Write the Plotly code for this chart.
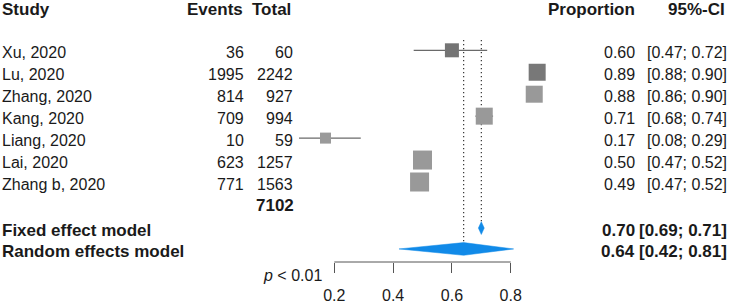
import plotly.graph_objects as go

# ---------------- data ----------------
studies = ["Xu, 2020", "Lu, 2020", "Zhang, 2020", "Kang, 2020",
           "Liang, 2020", "Lai, 2020", "Zhang b, 2020"]
events = [36, 1995, 814, 709, 10, 623, 771]
totals = [60, 2242, 927, 994, 59, 1257, 1563]
prop = [0.60, 0.89, 0.88, 0.71, 0.17, 0.50, 0.49]
ci_low = [0.47, 0.88, 0.86, 0.68, 0.08, 0.47, 0.47]
ci_high = [0.72, 0.90, 0.90, 0.74, 0.29, 0.52, 0.52]
total_n = 7102
fixed_est, fixed_low, fixed_high = 0.70, 0.69, 0.71
random_est, random_low, random_high = 0.64, 0.42, 0.81
tick_vals = [0.2, 0.4, 0.6, 0.8]
tick_text = ["0.2", "0.4", "0.6", "0.8"]
p_text = "<i>p</i> &lt; 0.01"

# ---------------- layout / style ----------------
W, H = 731, 304
MB = 42
row_y = [0, 1, 2, 3, 4, 5, 6]
total_y, fixed_y, random_y, header_y = 6.96, 8.1, 9.05, -1.88
top_ref_y = -0.47
sq_size = [14, 17, 17, 17, 11, 19, 19]
sq_color = ["#747474", "#787878", "#999999", "#999999", "#9a9a9a", "#999999", "#999999"]
blue = "#118ae8"
txt = "#1a1a1a"
FONT = "Liberation Sans, Arial, sans-serif"
FS, FSB = 16, 17
dh = 0.29  # diamond half height in row units
text_dy = 0.12

x_range = [-0.9371, 1.5493]
y_range = [9.6446, -2.2916]

fig = go.Figure()

# CI lines (below the squares)
for y, lo, hi in zip(row_y, ci_low, ci_high):
    fig.add_shape(type="line", xref="x", yref="y", x0=lo, x1=hi, y0=y, y1=y,
                  layer="below", line=dict(color="#6a6a6a", width=1.3))

# reference dotted lines
for est, ybot in [(random_est, random_y - dh), (fixed_est, fixed_y - dh)]:
    fig.add_shape(type="line", xref="x", yref="y", x0=est, x1=est, y0=top_ref_y, y1=ybot,
                  layer="below", line=dict(color="#222", width=1.1, dash="1.2px,2.8px"))

# squares
fig.add_trace(go.Scatter(x=prop, y=row_y, mode="markers",
                         marker=dict(symbol="square", size=sq_size, color=sq_color,
                                     opacity=1, line=dict(width=0)),
                         hoverinfo="skip", showlegend=False))

# diamonds
for est, lo, hi, y in [(fixed_est, fixed_low, fixed_high, fixed_y),
                       (random_est, random_low, random_high, random_y)]:
    fig.add_trace(go.Scatter(x=[lo, est, hi, est, lo], y=[y, y - dh, y, y + dh, y],
                             mode="lines", fill="toself", fillcolor=blue,
                             line=dict(color=blue, width=0.5),
                             hoverinfo="skip", showlegend=False))

# x axis line (only across tick span)
fig.add_shape(type="line", xref="x", yref="paper", x0=min(tick_vals), x1=max(tick_vals),
              y0=0, y1=0, line=dict(color="#555", width=1))

ann = []


def add_text(text, px, y, anchor, bold=False, yref="y"):
    ann.append(dict(text=f"<b>{text}</b>" if bold else text, x=px / W, xref="paper",
                    y=y, yref=yref, xanchor=anchor, yanchor="middle", showarrow=False,
                    borderpad=0, borderwidth=0,
                    font=dict(family=FONT, size=FSB if bold else FS, color=txt)))


# headers
add_text("Study", 2, header_y, "left", True)
add_text("Events", 243.5, header_y, "right", True)
add_text("Total", 291, header_y, "right", True)
add_text("Proportion", 635, header_y, "right", True)
add_text("95%-CI", 725, header_y, "right", True)

for i, y in enumerate(row_y):
    yt = y + text_dy
    add_text(studies[i], 2, yt, "left")
    add_text(str(events[i]), 244, yt, "right")
    add_text(str(totals[i]), 293, yt, "right")
    add_text(f"{prop[i]:.2f}", 634.5, yt, "right")
    add_text(f"[{ci_low[i]:.2f}; {ci_high[i]:.2f}]", 727, yt, "right")

add_text(str(total_n), 293.5, total_y + text_dy, "right", True)
add_text("Fixed effect model", 2, fixed_y + text_dy, "left", True)
add_text(f"{fixed_est:.2f}", 634.5, fixed_y + text_dy, "right", True)
add_text(f"[{fixed_low:.2f}; {fixed_high:.2f}]", 727, fixed_y + text_dy, "right", True)
add_text("Random effects model", 2, random_y + text_dy, "left", True)
add_text(f"{random_est:.2f}", 634.5, random_y + text_dy, "right", True)
add_text(f"[{random_low:.2f}; {random_high:.2f}]", 727, random_y + text_dy, "right", True)

add_text(p_text, 322, -0.05, "right", yref="paper")

fig.update_layout(
    width=W, height=H,
    margin=dict(l=0, r=0, t=0, b=MB, pad=0),
    paper_bgcolor="white", plot_bgcolor="white",
    annotations=ann,
    xaxis=dict(range=x_range, showgrid=False, zeroline=False, showline=False,
               tickmode="array", tickvals=tick_vals, ticktext=tick_text,
               ticks="outside", ticklen=10, tickwidth=1, tickcolor="#555",
               tickfont=dict(family=FONT, size=FS, color=txt), ticklabelstandoff=9,
               fixedrange=True),
    yaxis=dict(range=y_range, showgrid=False, zeroline=False, showline=False,
               showticklabels=False, ticks="", fixedrange=True),
    showlegend=False,
)

fig.write_html("out.html", config={"displayModeBar": False},
               post_script="document.body.style.margin='0';document.body.style.overflow='hidden';")
